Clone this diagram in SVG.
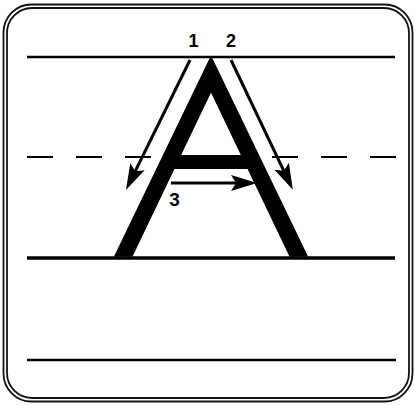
<svg xmlns="http://www.w3.org/2000/svg" width="415" height="405" viewBox="0 0 415 405">
  <style>
    .frame { fill: none; stroke: #111; stroke-width: 1.8; }
    .rule { stroke: #000; fill: none; }
    .arrow { stroke: #000; stroke-width: 3; fill: none; marker-end: url(#head); }
    .lbl { font-family: "Liberation Sans", Arial, sans-serif; font-weight: bold; fill: #000; text-anchor: middle; }
  </style>
  <defs>
    <marker id="head" markerUnits="userSpaceOnUse" markerWidth="26" markerHeight="16" refX="18" refY="8" orient="auto" overflow="visible">
      <path d="M0,0 L26,8 L0,16 L5,8 Z" fill="#000"/>
    </marker>
  </defs>
  <rect width="415" height="405" fill="#fff"/>
  <g id="frame">
    <rect class="frame" x="3.5" y="4.5" width="409" height="397" rx="28" ry="28"/>
    <rect class="frame" x="7" y="8" width="402" height="390" rx="25" ry="25"/>
  </g>
  <g id="rules">
    <line class="rule" x1="27" y1="57" x2="395" y2="57" stroke-width="2.5"/>
    <line class="rule" x1="27" y1="157" x2="396" y2="157" stroke-width="2" stroke-dasharray="26 23"/>
    <line class="rule" x1="27" y1="258" x2="395" y2="258" stroke-width="3.5"/>
    <line class="rule" x1="27" y1="360" x2="396" y2="360" stroke-width="2.5"/>
  </g>
  <g id="letterA">
    <path d="M115,256 L211,57 L307,256 L290,256 L211,91 L132,256 Z" fill="#000" stroke="#000" stroke-width="1.5" stroke-linejoin="round"/>
    <rect x="168" y="155" width="86" height="14" fill="#000"/>
  </g>
  <g id="connectors">
    <line class="arrow" x1="190" y1="60" x2="129.5" y2="182.9"/>
    <line class="arrow" x1="231" y1="60" x2="289.4" y2="182.6"/>
    <line class="arrow" x1="171" y1="183" x2="249" y2="183"/>
  </g>
  <g id="labels">
    <text class="lbl" x="193.5" y="47" font-size="18">1</text>
    <text class="lbl" x="231" y="47" font-size="18">2</text>
    <text class="lbl" x="174.5" y="206" font-size="19">3</text>
  </g>
</svg>
